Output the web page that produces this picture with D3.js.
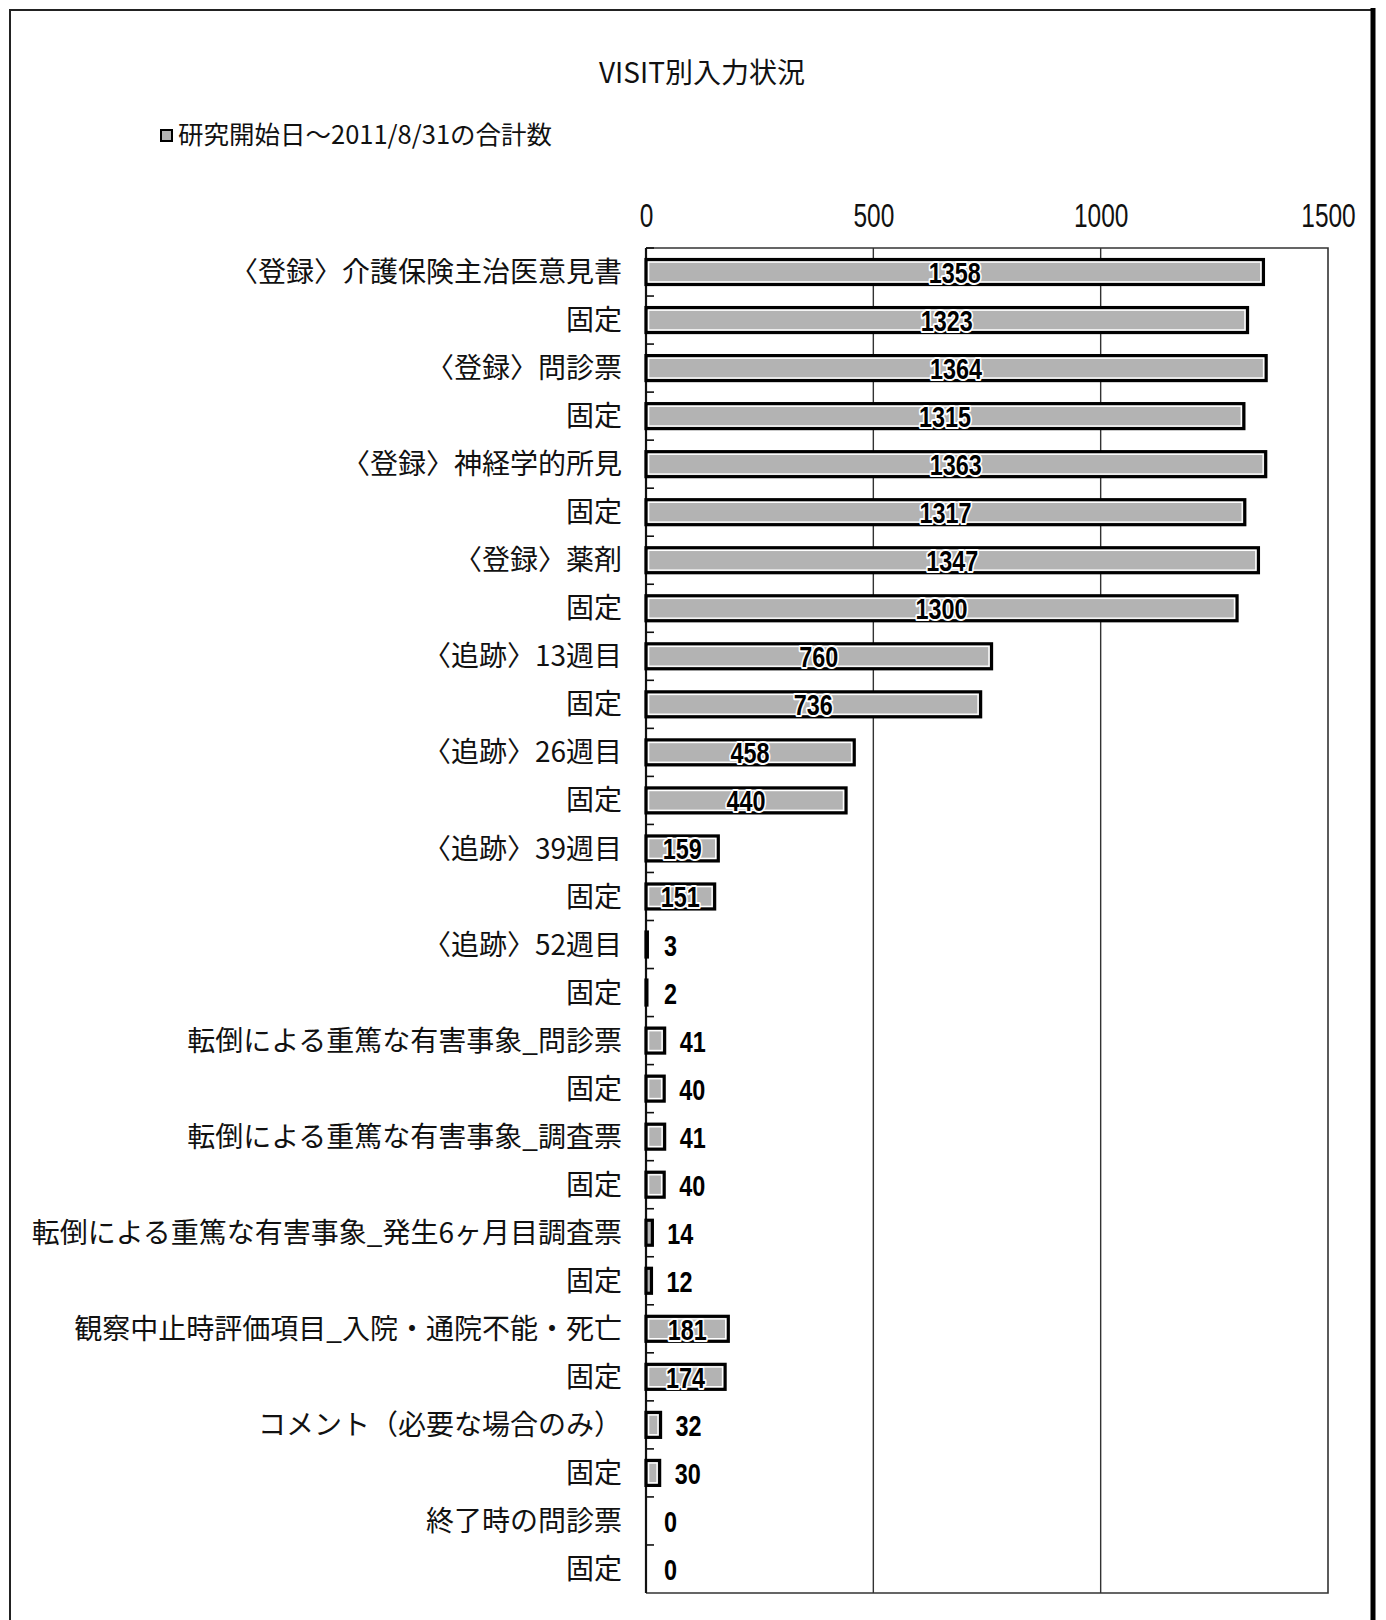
<!DOCTYPE html>
<html>
<head>
<meta charset="utf-8">
<script src="https://d3js.org/d3.v7.min.js"></script>
<style>
  body { margin: 0; background: #ffffff; }
  .cat-label { font-family: "Noto Sans CJK JP", sans-serif; font-size: 28px; fill: #111; }
  .num { font-family: "Liberation Sans", Arial, sans-serif; }
</style>
</head>
<body>
<div id="vis"></div>
<script>
// chart data
const CATEGORIES = [
  "〈登録〉介護保険主治医意見書", "固定",
  "〈登録〉問診票", "固定",
  "〈登録〉神経学的所見", "固定",
  "〈登録〉薬剤", "固定",
  "〈追跡〉13週目", "固定",
  "〈追跡〉26週目", "固定",
  "〈追跡〉39週目", "固定",
  "〈追跡〉52週目", "固定",
  "転倒による重篤な有害事象_問診票", "固定",
  "転倒による重篤な有害事象_調査票", "固定",
  "転倒による重篤な有害事象_発生6ヶ月目調査票", "固定",
  "観察中止時評価項目_入院・通院不能・死亡", "固定",
  "コメント（必要な場合のみ）", "固定",
  "終了時の問診票", "固定"
];
const VALUES = [1358, 1323, 1364, 1315, 1363, 1317, 1347, 1300, 760, 736, 458, 440,
                159, 151, 3, 2, 41, 40, 41, 40, 14, 12, 181, 174, 32, 30, 0, 0];
const X_TICKS = [0, 500, 1000, 1500];
const TITLE = "VISIT別入力状況";
const LEGEND_LABEL = "研究開始日～2011/8/31の合計数";

// frame and plot area
const FRAME_WIDTH = 1386;
const FRAME_HEIGHT = 1620;
const PLOT = {left: 646, right: 1328, top: 248, bottom: 1593};

const FRAME = d3.select("#vis")
  .append("svg")
    .attr("width", FRAME_WIDTH)
    .attr("height", FRAME_HEIGHT);

// outer page border
FRAME.append("rect")
  .attr("x", 10).attr("y", 10)
  .attr("width", 1363).attr("height", 1640)
  .attr("fill", "none")
  .attr("stroke", "#222")
  .attr("stroke-width", 2);
FRAME.append("line")
  .attr("x1", 1373).attr("x2", 1373)
  .attr("y1", 8).attr("y2", FRAME_HEIGHT)
  .attr("stroke", "#000")
  .attr("stroke-width", 5);

// title
FRAME.append("text")
  .attr("x", 702).attr("y", 83)
  .attr("text-anchor", "middle")
  .attr("font-family", "Noto Sans CJK JP, sans-serif")
  .attr("font-size", "28px")
  .attr("fill", "#111")
  .text(TITLE);

// legend
FRAME.append("rect")
  .attr("x", 161).attr("y", 130)
  .attr("width", 11).attr("height", 11)
  .attr("fill", "#b5b5b5")
  .attr("stroke", "#000")
  .attr("stroke-width", 2);
FRAME.append("text")
  .attr("x", 178).attr("y", 144)
  .attr("font-family", "Noto Sans CJK JP, sans-serif")
  .attr("font-size", "25.5px")
  .attr("fill", "#111")
  .text(LEGEND_LABEL);

// scales
const X_SCALE = d3.scaleLinear()
  .domain([0, 1500])
  .range([PLOT.left, PLOT.right]);

const Y_SCALE = d3.scaleBand()
  .domain(d3.range(CATEGORIES.length))
  .range([PLOT.top, PLOT.bottom])
  .paddingInner(0.48)
  .paddingOuter(0.24);

const GAP = (Y_SCALE.step() - Y_SCALE.bandwidth()) / 2;

// gridlines
FRAME.append("g")
  .selectAll("line")
  .data(X_TICKS.slice(1, -1))
  .enter()
  .append("line")
    .attr("x1", d => X_SCALE(d)).attr("x2", d => X_SCALE(d))
    .attr("y1", PLOT.top).attr("y2", PLOT.bottom)
    .attr("stroke", "#333")
    .attr("stroke-width", 1.4);

// plot border (top, right, bottom)
FRAME.append("path")
  .attr("d", `M${PLOT.left},${PLOT.top}H${PLOT.right}V${PLOT.bottom}H${PLOT.left}`)
  .attr("fill", "none")
  .attr("stroke", "#333")
  .attr("stroke-width", 1.6);

// top axis labels, narrow digits like the original
const xAxis = FRAME.append("g")
  .attr("transform", "translate(0," + PLOT.top + ")")
  .call(d3.axisTop(X_SCALE).tickValues(X_TICKS).tickFormat(d3.format("d"))
          .tickSize(0).tickPadding(21));
xAxis.select(".domain").remove();
xAxis.selectAll("text")
  .attr("class", "num")
  .attr("font-size", "34px")
  .attr("fill", "#111")
  .attr("transform", "scale(0.72,1)");

// category axis: line and tick marks between categories
FRAME.append("line")
  .attr("x1", PLOT.left).attr("x2", PLOT.left)
  .attr("y1", PLOT.top).attr("y2", PLOT.bottom)
  .attr("stroke", "#111")
  .attr("stroke-width", 2.2);
FRAME.append("g")
  .selectAll("line")
  .data(d3.range(CATEGORIES.length))
  .enter()
  .append("line")
    .attr("x1", PLOT.left).attr("x2", PLOT.left + 8)
    .attr("y1", d => Y_SCALE(d) - GAP).attr("y2", d => Y_SCALE(d) - GAP)
    .attr("stroke", "#111")
    .attr("stroke-width", 1.6);

// category labels
FRAME.append("g")
  .selectAll("text")
  .data(CATEGORIES)
  .enter()
  .append("text")
    .attr("class", "cat-label")
    .attr("x", 622)
    .attr("y", (d, i) => Y_SCALE(i) + Y_SCALE.bandwidth() / 2)
    .attr("dy", "0.36em")
    .attr("text-anchor", "end")
    .text(d => d);

// bars: black border, thin white rim, gray fill
const barG = FRAME.append("g");
VALUES.forEach((v, i) => {
  if (v <= 0) return;
  const w = X_SCALE(v) - X_SCALE(0);
  barG.append("rect")
    .attr("x", X_SCALE(0))
    .attr("y", Y_SCALE(i))
    .attr("width", w)
    .attr("height", Y_SCALE.bandwidth())
    .attr("fill", "#b3b3b3")
    .attr("stroke", "#000")
    .attr("stroke-width", 3.2);
  if (w > 8) {
    barG.append("rect")
      .attr("x", X_SCALE(0) + 2.6)
      .attr("y", Y_SCALE(i) + 2.6)
      .attr("width", w - 5.2)
      .attr("height", Y_SCALE.bandwidth() - 5.2)
      .attr("fill", "none")
      .attr("stroke", "#fff")
      .attr("stroke-width", 1.4);
  }
});

// value labels: centred on wide bars, to the right of narrow ones
FRAME.append("g")
  .selectAll("text")
  .data(VALUES)
  .enter()
  .append("text")
    .attr("class", "num")
    .attr("font-size", "30px")
    .attr("font-weight", "bold")
    .attr("fill", "#000")
    .attr("stroke", "#fff")
    .attr("stroke-width", 4)
    .attr("paint-order", "stroke")
    .attr("stroke-linejoin", "round")
    .attr("text-anchor", d => (X_SCALE(d) - X_SCALE(0) > 60 ? "middle" : "start"))
    .attr("transform", (d, i) => {
      const w = X_SCALE(d) - X_SCALE(0);
      const x = w > 60 ? (X_SCALE(0) + X_SCALE(d)) / 2 : Math.max(X_SCALE(d) + 15, 664);
      const y = Y_SCALE(i) + Y_SCALE.bandwidth() / 2 + 11;
      return "translate(" + x + "," + y + ") scale(0.78,1)";
    })
    .text(d => d);
</script>
</body>
</html>
